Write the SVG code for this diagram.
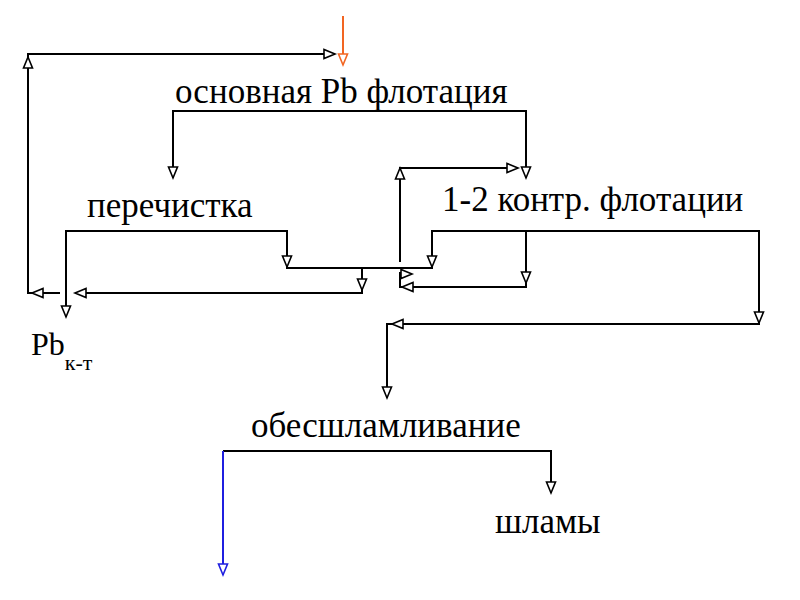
<svg xmlns="http://www.w3.org/2000/svg" xmlns:xlink="http://www.w3.org/1999/xlink" width="800" height="600" viewBox="0 0 800 600">
<style>
.ln{fill:none;stroke:#000;stroke-width:2;stroke-linejoin:miter}
.lbl{font-family:"Liberation Serif","Times New Roman",serif;font-size:35px;fill:#000}
.ah{fill:#fff;stroke:#000;stroke-width:1.6;stroke-linejoin:miter}
</style>
<defs>
<path id="ah" d="M0,0 L-11,-4.5 L-11,4.5 Z"/>
</defs>
<rect width="800" height="600" fill="#fff"/>

<g id="connectors">
<path class="ln" d="M60,293 H28 V54 H335"/>
<path class="ln" d="M343,16 V64" style="stroke:#f26522"/>
<path class="ln" d="M173,178 V111 H526 V178"/>
<path class="ln" d="M400,262 V168 H518"/>
<path class="ln" d="M66,317 V231 H287 V268 H432 V231 H759 V324 H387 V398"/>
<path class="ln" d="M362,268 V293 H75"/>
<path class="ln" d="M526,231 V287 H400 V272"/>
<path class="ln" d="M223,451 H551 V493"/>
<path class="ln" d="M223,451 V575" style="stroke:#1f1fe0"/>

<use href="#ah" class="ah" transform="translate(32,293) rotate(180)"/>
<use href="#ah" class="ah" transform="translate(28,57) rotate(-90)"/>
<use href="#ah" class="ah" transform="translate(335,54)"/>
<use href="#ah" class="ah" style="stroke:#f26522" transform="translate(343,65) rotate(90)"/>
<use href="#ah" class="ah" transform="translate(173,178) rotate(90)"/>
<use href="#ah" class="ah" transform="translate(526,178) rotate(90)"/>
<use href="#ah" class="ah" transform="translate(518,168)"/>
<use href="#ah" class="ah" transform="translate(400,168) rotate(-90)"/>
<use href="#ah" class="ah" transform="translate(66,317) rotate(90)"/>
<use href="#ah" class="ah" transform="translate(287,267) rotate(90)"/>
<use href="#ah" class="ah" transform="translate(432,267) rotate(90)"/>
<use href="#ah" class="ah" transform="translate(362,290) rotate(90)"/>
<use href="#ah" class="ah" transform="translate(75,293) rotate(180)"/>
<use href="#ah" class="ah" transform="translate(412,274)"/>
<use href="#ah" class="ah" transform="translate(402,287) rotate(180)"/>
<use href="#ah" class="ah" transform="translate(526,283) rotate(90)"/>
<use href="#ah" class="ah" transform="translate(759,323) rotate(90)"/>
<use href="#ah" class="ah" transform="translate(392,324) rotate(180)"/>
<use href="#ah" class="ah" transform="translate(387,398) rotate(90)"/>
<use href="#ah" class="ah" style="stroke:#1f1fe0" transform="translate(223,575) rotate(90)"/>
<use href="#ah" class="ah" transform="translate(551,493) rotate(90)"/>
</g>

<g id="node-main"><text class="lbl" x="175" y="103">основная Pb флотация</text></g>
<g id="node-cleaning"><text class="lbl" x="87" y="217">перечистка</text></g>
<g id="node-control"><text class="lbl" x="442" y="211">1-2 контр. флотации</text></g>
<g id="node-pb"><text class="lbl" x="31" y="355" style="font-size:32px">Pb<tspan dy="15" style="font-size:22px">к-т</tspan></text></g>
<g id="node-desliming"><text class="lbl" x="251" y="437">обесшламливание</text></g>
<g id="node-slimes"><text class="lbl" x="495" y="533">шламы</text></g>
</svg>
